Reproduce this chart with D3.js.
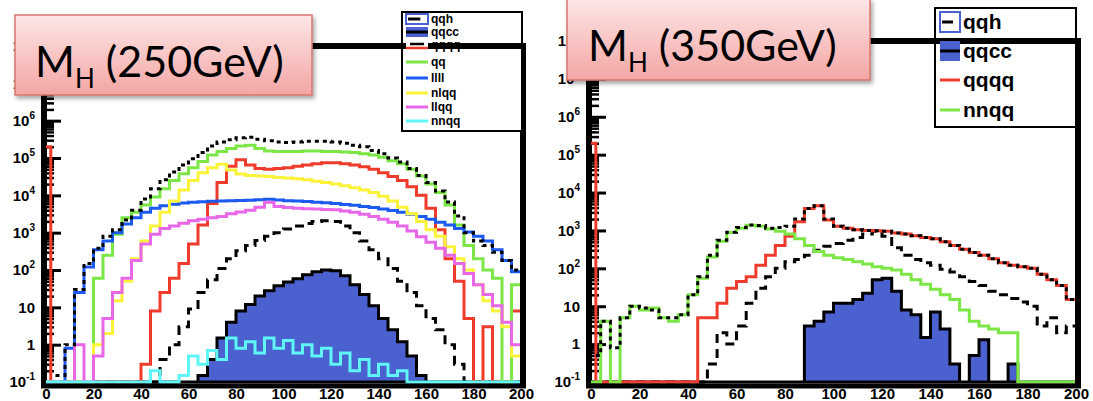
<!DOCTYPE html>
<html>
<head>
<meta charset="utf-8">
<script src="https://cdn.jsdelivr.net/npm/d3@7"></script>
<style>
body { margin: 0; background: #fff; }
svg { display: block; }
</style>
</head>
<body>
<div id="chart"></div>
<script>
// bin edges in GeV: the first 4 GeV are split so the spike at 0 stays narrow
var massEdges = [0, 2].concat(d3.range(4, 201, 4));
var xTicks = d3.range(0, 201, 20);

// ---- M_H = 250 GeV ----
var total250 = [0, 0, 0.15, 1, 30, 150, 380, 800, 1200, 2200,
  4000, 8000, 15000, 26000, 42000, 65000, 95000, 1.4e5, 2.1e5, 2.7e5,
  3.1e5, 3.5e5, 3.6e5, 3.2e5, 2.9e5, 2.7e5, 2.6e5, 2.7e5, 2.8e5, 2.8e5,
  2.8e5, 2.7e5, 2.5e5, 2.2e5, 2.0e5, 1.6e5, 1.3e5, 1.0e5, 7.8e4, 5.2e4,
  3.4e4, 2.2e4, 1.3e4, 6600, 2800, 1000, 600, 450, 300, 180, 100];
var qq250 = [0, 0, 0, 0, 0, 0, 60, 250, 900, 2500,
  3500, 5500, 9000, 15000, 25000, 38000, 55000, 80000, 1.2e5, 1.5e5,
  1.8e5, 2.1e5, 2.2e5, 1.8e5, 1.55e5, 1.5e5, 1.5e5, 1.5e5, 1.55e5, 1.55e5,
  1.5e5, 1.5e5, 1.45e5, 1.4e5, 1.3e5, 1.2e5, 1.05e5, 8.5e4, 7e4, 5e4,
  3.3e4, 2e4, 1.2e4, 5500, 1600, 450, 200, 100, 60, 0, 40];
var qqqq250 = [2e5, 0, 0, 0, 0, 0, 0, 0, 0, 0,
  0, 0.3, 8, 25, 60, 150, 500, 1600, 6000, 22000,
  60000, 90000, 65000, 52000, 50000, 52000, 55000, 60000, 65000, 70000,
  75000, 75000, 70000, 65000, 58000, 50000, 40000, 32000, 25000, 17000,
  10000, 4500, 1200, 200, 50, 5, 0, 3, 0, 0, 8];
var llll250 = [0, 0, 0, 0.8, 25, 120, 350, 600, 1000, 1700,
  2500, 3500, 4500, 5300, 5800, 6200, 6500, 6700, 6900, 7000,
  7200, 7300, 7400, 7600, 7800, 7500, 7200, 7000, 6800, 6500,
  6300, 6000, 5700, 5400, 5000, 4700, 4300, 3900, 3500, 3100,
  2700, 2300, 1900, 1600, 1300, 1050, 800, 600, 350, 180, 90];
var nlqq250 = [0, 0, 0, 0, 0, 0, 1, 2, 15, 50,
  200, 600, 1500, 3500, 7000, 14000, 25000, 40000, 55000, 68000,
  48000, 37000, 34000, 33000, 32000, 30000, 29000, 28000, 26000, 24000,
  22000, 20000, 18000, 16000, 14000, 12000, 9500, 7000, 4800, 3200,
  2000, 1200, 800, 420, 200, 100, 40, 15, 8, 3, 0.5];
var llqq250 = [0, 0, 0, 0, 1, 0, 0.5, 5, 25, 60,
  180, 500, 900, 1300, 1500, 1800, 2100, 2300, 2500, 2700,
  3200, 3600, 4000, 4800, 6500, 5000, 4700, 4500, 4400, 4300,
  4200, 4100, 3800, 3500, 3100, 2700, 2300, 1900, 1500, 1100,
  780, 550, 380, 250, 150, 80, 40, 22, 11, 4, 1];
var qqh250 = [0, 0, 0, 0, 0, 0, 0, 0, 0, 0,
  0, 0, 0, 0.4, 1, 3, 9, 25, 55, 110,
  200, 330, 450, 620, 800, 1000, 1250, 1500, 1750, 2000,
  2100, 2000, 1500, 1000, 600, 350, 200, 110, 50, 25,
  11, 5, 2.5, 1, 0.3, 0, 0, 0, 0, 0, 0];
var qqcc250 = [0, 0, 0, 0, 0, 0, 0, 0, 0, 0,
  0, 0, 0, 0, 0, 0, 0, 0.15, 0.4, 1.5,
  4, 8, 12, 20, 28, 38, 48, 58, 75, 90,
  100, 95, 70, 40, 22, 11, 5, 2.5, 1.2, 0.5,
  0.15, 0, 0, 0, 0, 0, 0, 0, 0, 0, 0];
var nnqq250 = [0, 0.1, 0.1, 0.1, 0.1, 0.1, 0.1, 0.1, 0.1, 0.1,
  0.1, 0.1, 0.2, 0.1, 0.1, 0.15, 0.5, 0.3, 0.7, 0.4,
  1.5, 0.8, 1.2, 0.6, 1.5, 0.8, 1.3, 0.6, 1.0, 0.5,
  0.8, 0.3, 0.6, 0.2, 0.4, 0.15, 0.3, 0.15, 0.2, 0.1,
  0.1, 0.1, 0.1, 0.1, 0.1, 0.1, 0.1, 0.1, 0.1, 0.1, 0.1];

// ---- M_H = 350 GeV ----
var total350 = [0, 0.5, 4, 0.8, 5, 10, 9, 8, 5, 5,
  6, 20, 60, 220, 550, 900, 1200, 1400, 1350, 1150,
  1200, 1300, 2000, 3800, 4500, 2000, 1300, 1150, 1050, 1000,
  980, 950, 850, 800, 720, 650, 600, 500, 400, 320,
  260, 220, 180, 140, 120, 110, 100, 70, 50, 35, 15];
var nnqq350 = [0, 0, 4, 0, 5, 10, 8, 9, 5, 4,
  6, 20, 55, 200, 520, 880, 1150, 1380, 1300, 1100,
  950, 800, 600, 400, 280, 220, 190, 170, 150, 130,
  110, 100, 90, 70, 50, 38, 28, 20, 15, 8,
  4, 3, 2.5, 2, 2, 0, 0, 0, 0, 0, 0];
var qqqq350 = [2e5, 0, 0, 0, 0, 0, 0, 0, 0, 0,
  0, 0, 5, 5, 12, 30, 45, 60, 120, 220,
  400, 700, 1700, 3800, 4500, 1900, 1300, 1150, 1050, 1000,
  980, 950, 850, 800, 720, 650, 600, 500, 400, 320,
  260, 220, 180, 140, 120, 110, 100, 70, 50, 35, 15];
var qqh350 = [0, 0, 0, 0, 0, 0, 0, 0, 0, 0,
  0, 0, 0, 0.3, 2, 1, 3, 12, 30, 60,
  100, 150, 170, 220, 300, 380, 450, 550, 650, 800,
  950, 700, 350, 220, 170, 140, 120, 95, 80, 60,
  45, 35, 25, 20, 16, 13, 10, 3, 5, 2, 3];
var qqcc350 = [0, 0, 0, 0, 0, 0, 0, 0, 0, 0,
  0, 0, 0, 0, 0, 0, 0, 0, 0, 0,
  0, 0, 0, 3, 4, 7, 12, 12, 15, 22,
  50, 55, 25, 8, 6, 1.5, 7, 2.5, 0.3, 0,
  0.5, 1.3, 0, 0, 0.3, 0, 0, 0, 0, 0, 0];

var blueFill = "#4b61cf";
var colRed = "#ee3b2b", colGreen = "#7be645", colBlue = "#1d5af2";
var colYellow = "#fbf23a", colMagenta = "#e866e8", colCyan = "#5ef6f6";

var svg = d3.select("#chart").append("svg")
    .attr("width", 1093)
    .attr("height", 401);

var defs = svg.append("defs");
var grad = defs.append("linearGradient").attr("id", "pinkGrad")
    .attr("x1", 0).attr("y1", 0).attr("x2", 0).attr("y2", 1);
grad.append("stop").attr("offset", "0%").attr("stop-color", "#fde6e6");
grad.append("stop").attr("offset", "100%").attr("stop-color", "#f3a6a4");
defs.append("filter").attr("id", "boxShadow")
    .attr("x", "-10%").attr("y", "-10%").attr("width", "130%").attr("height", "150%")
    .append("feDropShadow")
    .attr("dx", 2).attr("dy", 3).attr("stdDeviation", 2)
    .attr("flood-color", "#000").attr("flood-opacity", 0.35);

// step path of a histogram, empty bins sit on the floor unless skipEmpty
function histPath(vals, x, y, skipEmpty) {
    var floor = y.domain()[0];
    var p = "", open = false;
    vals.forEach(function (v, i) {
        var xa = x(massEdges[i]), xb = x(massEdges[i + 1]);
        if (skipEmpty && !(v > 0)) { open = false; return; }
        var yy = y(Math.max(v, floor));
        p += open ? "V" + yy : "M" + xa + "," + yy;
        p += "H" + xb;
        open = true;
    });
    return p;
}

function areaPath(vals, x, y) {
    var floor = y.domain()[0];
    var y0 = y(floor);
    var p = "M" + x(massEdges[0]) + "," + y0;
    vals.forEach(function (v, i) {
        p += "V" + y(Math.max(v, floor)) + "H" + x(massEdges[i + 1]);
    });
    return p + "V" + y0 + "Z";
}

var panels = [
    {
        id: "a", x0: 46, x1: 521, yTop: 46, yBot: 382,
        series: [
            { vals: qqcc250, fill: blueFill },
            { vals: qqh250, color: "#000", dash: "9,6" },
            { vals: qqqq250, color: colRed },
            { vals: qq250, color: colGreen },
            { vals: llll250, color: colBlue },
            { vals: nlqq250, color: colYellow },
            { vals: llqq250, color: colMagenta },
            { vals: nnqq250, color: colCyan },
            { vals: total250, color: "#000", dash: "4,4", skip: true }
        ]
    },
    {
        id: "b", x0: 591, x1: 1076, yTop: 41, yBot: 382,
        series: [
            { vals: qqcc350, fill: blueFill },
            { vals: qqh350, color: "#000", dash: "9,6" },
            { vals: qqqq350, color: colRed },
            { vals: nnqq350, color: colGreen },
            { vals: total350, color: "#000", dash: "4,4", skip: true }
        ]
    }
];

var rootFont = "'Liberation Sans', Arial, sans-serif";

panels.forEach(function (p) {
    var x = d3.scaleLinear().domain([0, 200]).range([p.x0, p.x1]);
    var y = d3.scaleLog().domain([0.1, 1e8]).range([p.yBot, p.yTop]);
    var g = svg.append("g");

    defs.append("clipPath").attr("id", "clip" + p.id)
        .append("rect")
        .attr("x", p.x0).attr("y", p.yTop)
        .attr("width", p.x1 - p.x0).attr("height", p.yBot - p.yTop + 2);

    // log minor ticks
    var minors = [];
    d3.range(-1, 8).forEach(function (e) {
        d3.range(2, 10).forEach(function (m) { minors.push(m * Math.pow(10, e)); });
    });
    var minorAxis = g.append("g")
        .attr("transform", `translate(${p.x0}, 0)`)
        .call(d3.axisLeft(y).tickValues(minors).tickSizeInner(-8).tickSizeOuter(0).tickFormat(""));
    minorAxis.select(".domain").remove();
    minorAxis.selectAll("line").attr("stroke", "#000").attr("stroke-width", 2.5);

    var majors = d3.range(-1, 9).map(function (e) { return Math.pow(10, e); });
    var yAxis = g.append("g")
        .attr("transform", `translate(${p.x0}, 0)`)
        .call(d3.axisLeft(y).tickValues(majors).tickSizeInner(-15).tickSizeOuter(0).tickPadding(11));
    yAxis.select(".domain").remove();
    yAxis.selectAll("line").attr("stroke", "#000").attr("stroke-width", 3);
    yAxis.selectAll("text")
        .attr("font-family", rootFont).attr("font-weight", "bold").attr("font-size", 15)
        .attr("fill", "#000")
        .each(function (d) {
            var t = d3.select(this).text("");
            var e = Math.round(Math.log10(d));
            if (e === 0) t.text("1");
            else if (e === 1) t.text("10");
            else {
                t.append("tspan").text("10");
                t.append("tspan").attr("dy", -7).attr("font-size", 10).text(e);
            }
        });

    var xAxis = g.append("g")
        .attr("transform", `translate(0, ${p.yBot})`)
        .call(d3.axisBottom(x).tickValues(xTicks).tickSize(0).tickPadding(6));
    xAxis.select(".domain").remove();
    xAxis.selectAll("text")
        .attr("font-family", rootFont).attr("font-weight", "bold").attr("font-size", 15)
        .attr("fill", "#000");

    // thick axis line on the left
    g.append("rect")
        .attr("x", p.x0 - 5).attr("y", p.yTop).attr("width", 6).attr("height", p.yBot - p.yTop + 6)
        .attr("fill", "#000");

    var hist = g.append("g").attr("clip-path", `url(#clip${p.id})`);
    p.series.forEach(function (s) {
        if (s.fill) {
            hist.append("path").attr("d", areaPath(s.vals, x, y))
                .attr("fill", s.fill).attr("stroke", "#000").attr("stroke-width", 3);
        } else {
            hist.append("path").attr("d", histPath(s.vals, x, y, s.skip))
                .attr("fill", "none").attr("stroke", s.color).attr("stroke-width", 3)
                .attr("stroke-dasharray", s.dash || null);
        }
    });

    // bottom axis line and right frame
    g.append("rect")
        .attr("x", p.x0 - 5).attr("y", p.yBot + 1.5).attr("width", p.x1 - p.x0 + 10).attr("height", 5)
        .attr("fill", "#000");
    g.append("rect")
        .attr("x", p.x1 - 1).attr("y", p.yTop - 3).attr("width", 6).attr("height", p.yBot - p.yTop + 9)
        .attr("fill", "#000");
});

// ---- legends ----
var legendA = [
    { name: "qqh", type: "box" },
    { name: "qqcc", type: "fill" },
    { name: "qqqq", type: "redbox" },
    { name: "qq", type: "line", color: colGreen },
    { name: "llll", type: "line", color: colBlue },
    { name: "nlqq", type: "line", color: colYellow },
    { name: "llqq", type: "line", color: colMagenta },
    { name: "nnqq", type: "line", color: colCyan }
];
var legendB = [
    { name: "qqh", type: "box" },
    { name: "qqcc", type: "fill" },
    { name: "qqqq", type: "line", color: colRed },
    { name: "nnqq", type: "line", color: colGreen }
];

function drawLegend(entries, box, mk) {
    var lg = svg.append("g");
    lg.append("rect")
        .attr("x", box.x).attr("y", box.y).attr("width", box.w).attr("height", box.h)
        .attr("fill", "#fff").attr("stroke", "#000").attr("stroke-width", 2);
    lg.selectAll("text.lab").data(entries).enter().append("text")
        .attr("class", "lab")
        .attr("x", mk.tx)
        .attr("y", function (d, i) { return mk.rows[i]; })
        .attr("dy", "0.35em")
        .attr("font-family", rootFont).attr("font-weight", "bold")
        .attr("font-size", mk.fs)
        .text(function (d) { return d.name; });
}

function drawMarkers(entries, mk) {
    var mg = svg.append("g");
    entries.forEach(function (d, i) {
        var yy = mk.rows[i];
        var h = mk.h;
        if (d.type === "box") {
            mg.append("rect").attr("x", mk.xa).attr("y", yy - h / 2).attr("width", mk.xb - mk.xa).attr("height", h)
                .attr("fill", "#fff").attr("stroke", blueFill).attr("stroke-width", 2);
            mg.append("line").attr("x1", mk.xa + 2).attr("x2", mk.xa + (mk.xb - mk.xa) * 0.65)
                .attr("y1", yy).attr("y2", yy).attr("stroke", "#000").attr("stroke-width", 3);
        } else if (d.type === "fill") {
            mg.append("rect").attr("x", mk.xa).attr("y", yy - h / 2).attr("width", mk.xb - mk.xa).attr("height", h)
                .attr("fill", blueFill);
            mg.append("line").attr("x1", mk.xa).attr("x2", mk.xb)
                .attr("y1", yy).attr("y2", yy).attr("stroke", "#000").attr("stroke-width", 3);
        } else if (d.type === "redbox") {
            mg.append("rect").attr("x", mk.xa).attr("y", yy - h / 2).attr("width", mk.xb - mk.xa).attr("height", h)
                .attr("fill", "#fff");
            mg.append("line").attr("x1", mk.xa + 4).attr("x2", mk.xb - 4)
                .attr("y1", yy - 1).attr("y2", yy - 1).attr("stroke", "#000").attr("stroke-width", 2.5);
            mg.append("line").attr("x1", mk.xa).attr("x2", mk.xb)
                .attr("y1", yy + 3).attr("y2", yy + 3).attr("stroke", colRed).attr("stroke-width", 2.5);
        } else {
            mg.append("line").attr("x1", mk.xa).attr("x2", mk.xb)
                .attr("y1", yy).attr("y2", yy).attr("stroke", d.color).attr("stroke-width", 3);
        }
    });
}

var mkA = { xa: 406, xb: 428, tx: 431, rows: [19, 32, 45, 62, 78, 93, 107, 121], fs: 12, h: 10 };
var mkB = { xa: 940, xb: 960, tx: 963, rows: [22, 51, 80, 110], fs: 21, h: 20 };
drawLegend(legendA, { x: 402, y: 12, w: 120, h: 119 }, mkA);
drawLegend(legendB, { x: 935, y: 8, w: 141, h: 119 }, mkB);

// thick top frame lines go over the legends
panels.forEach(function (p) {
    svg.append("rect")
        .attr("x", p.x0 - 5).attr("y", p.yTop - 3).attr("width", p.x1 - p.x0 + 10).attr("height", 6)
        .attr("fill", "#000");
});

drawMarkers(legendA, mkA);
drawMarkers(legendB, mkB);

// ---- title boxes ----
var titles = [
    { label: "250GeV", x: 15, y: 15, w: 297, h: 80, tx: 35, ty: 77 },
    { label: "350GeV", x: 567, y: -1, w: 303, h: 81, tx: 588, ty: 61 }
];
titles.forEach(function (t) {
    var tg = svg.append("g");
    tg.append("rect")
        .attr("x", t.x).attr("y", t.y).attr("width", t.w).attr("height", t.h)
        .attr("fill", "url(#pinkGrad)")
        .attr("stroke", "#d6766f").attr("stroke-width", 1.5)
        .attr("filter", "url(#boxShadow)");
    var txt = tg.append("text")
        .attr("x", t.tx).attr("y", t.ty)
        .attr("font-family", "Lato, 'Open Sans', sans-serif")
        .attr("font-size", 43)
        .attr("fill", "#000");
    txt.append("tspan").text("M");
    txt.append("tspan").attr("font-size", 26).attr("dy", 11).text("H");
    txt.append("tspan").attr("dy", -11).text(" (" + t.label + ")");
});
</script>
</body>
</html>
